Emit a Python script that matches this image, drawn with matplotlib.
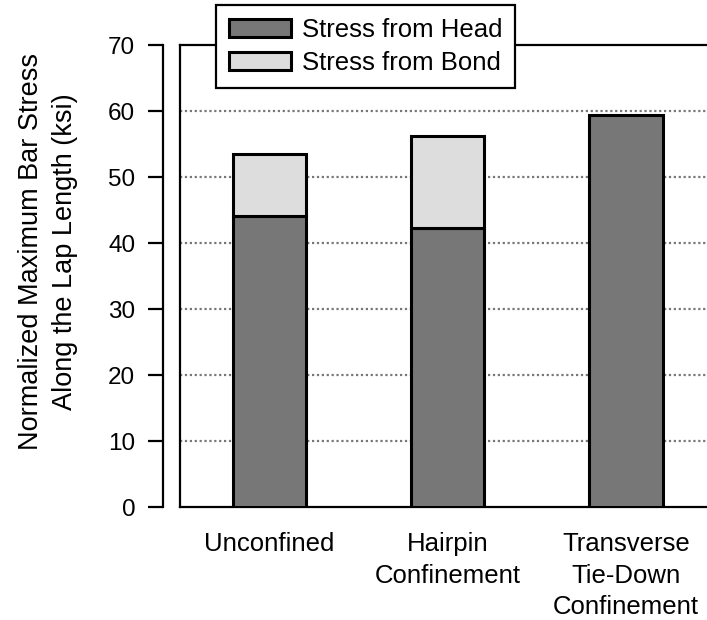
import matplotlib
matplotlib.use("Agg")
import matplotlib.pyplot as plt
import numpy as np

plt.rcParams['font.family'] = ['Liberation Sans', 'DejaVu Sans']

# stress data (ksi)
categories = ['Unconfined', 'Hairpin\nConfinement', 'Transverse\nTie-Down\nConfinement']
head_stress = [44.2, 42.3, 59.5]
bond_stress = [9.3, 14.0, 0.0]
series_names = ['Stress from Head', 'Stress from Bond']
yticks = [0, 10, 20, 30, 40, 50, 60, 70]

fig = plt.figure(figsize=(7.07, 6.2), dpi=100)
ax = fig.add_axes([0.2546, 0.1818, 0.757, 0.7452])

x = np.arange(len(categories))
w = 0.41
ax.bar(x, head_stress, w, color='#777777', edgecolor='black', linewidth=2.2,
       label=series_names[0], zorder=3)
bond_vals = np.array(bond_stress)
mask = bond_vals > 0
ax.bar(x[mask], bond_vals[mask], w, bottom=np.array(head_stress)[mask],
       color='#dddddd', edgecolor='black', linewidth=2.2,
       label=series_names[1], zorder=3)

ax.set_xlim(-0.5, 2.5)
ax.set_ylim(0, 70)
ax.set_yticks(yticks)
ax.set_xticks(x)
ax.set_xticklabels(categories, fontsize=18.5, linespacing=1.4)
ax.tick_params(axis='x', length=0, pad=18)
ax.tick_params(axis='y', length=11, width=1.6, direction='out', labelsize=17.5, pad=9)

for g in yticks[1:-1]:
    ax.axhline(g, color='#777777', linestyle=(0, (1, 1.2)), linewidth=1.6, zorder=1)

for s in ['top', 'bottom', 'right']:
    ax.spines[s].set_linewidth(1.6)
ax.spines['left'].set_linewidth(1.6)
ax.spines['left'].set_position(('outward', 12.2))
# inner frame edge at the plot's left side
ax.plot([0, 0], [0, 1], transform=ax.transAxes, color='black', linewidth=1.6,
        clip_on=False, zorder=4)

ax.set_ylabel('Normalized Maximum Bar Stress\nAlong the Lap Length (ksi)',
              fontsize=19.5, linespacing=1.42)
ax.yaxis.set_label_coords(-0.19, 0.553)

leg = ax.legend(loc='upper left', bbox_to_anchor=(0.0667, 1.087), fontsize=18.5,
                frameon=True, fancybox=False, framealpha=1, edgecolor='black',
                handlelength=2.45, handleheight=0.67, handletextpad=0.39,
                borderpad=0.5, labelspacing=0.36, borderaxespad=0)
leg.get_frame().set_linewidth(1.6)
leg.set_zorder(5)

fig.savefig('out.png', dpi=100)
